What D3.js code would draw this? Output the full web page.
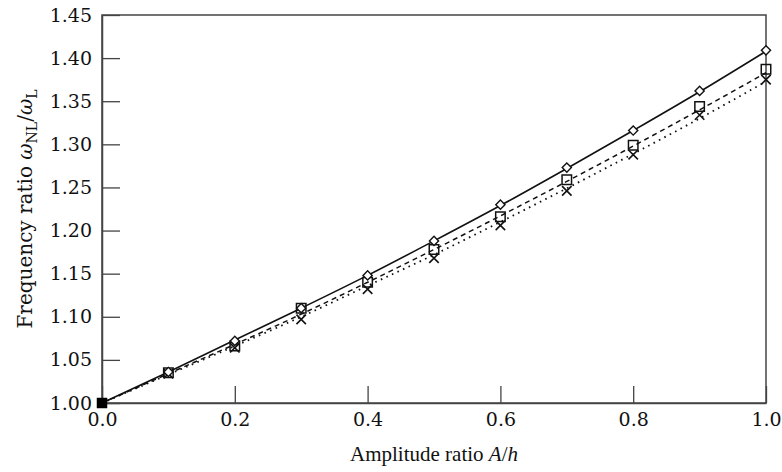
<!DOCTYPE html>
<html>
<head>
<meta charset="utf-8">
<script src="https://cdn.jsdelivr.net/npm/d3@7"></script>
<style>
  body { margin: 0; background: #fff; }
</style>
</head>
<body>
<svg id="chart" width="782" height="472"></svg>
<script>
// amplitude ratio A/h
var amplitude = [0.0, 0.1, 0.2, 0.3, 0.4, 0.5, 0.6, 0.7, 0.8, 0.9, 1.0];

// markers
var diamondValues = [1.000, 1.036, 1.072, 1.110, 1.148, 1.188, 1.230, 1.273, 1.316, 1.362, 1.409];
var squareValues  = [1.000, 1.035, 1.066, 1.110, 1.140, 1.178, 1.216, 1.259, 1.299, 1.344, 1.387];
var crossValues   = [1.000, 1.034, 1.064, 1.097, 1.132, 1.168, 1.206, 1.246, 1.288, 1.334, 1.375];

// curves
var solidCurve  = [1.000, 1.036, 1.073, 1.110, 1.148, 1.188, 1.229, 1.272, 1.316, 1.361, 1.408];
var dashedCurve = [1.000, 1.034, 1.068, 1.103, 1.140, 1.178, 1.217, 1.257, 1.298, 1.340, 1.383];
var dottedCurve = [1.000, 1.033, 1.066, 1.100, 1.136, 1.172, 1.210, 1.249, 1.289, 1.330, 1.373];

var xTicks = [0.0, 0.2, 0.4, 0.6, 0.8, 1.0];
var yTicks = [1.00, 1.05, 1.10, 1.15, 1.20, 1.25, 1.30, 1.35, 1.40, 1.45];

var svg = d3.select("#chart");
var plotLeft = 102, plotRight = 766, plotTop = 15, plotBottom = 403;
var axisColor = "#444";
var tickFont = "DejaVu Serif";

var x = d3.scaleLinear().domain([0, 1]).range([plotLeft, plotRight]);
var y = d3.scaleLinear().domain([1.0, 1.45]).range([plotBottom, plotTop]);

// frame
svg.append("rect")
    .attr("x", plotLeft)
    .attr("y", plotTop)
    .attr("width", plotRight - plotLeft)
    .attr("height", plotBottom - plotTop)
    .attr("fill", "none")
    .attr("stroke", axisColor)
    .attr("stroke-width", 1.5);

// axes with inward ticks
var xAxis = svg.append("g")
    .attr("transform", "translate(0," + plotBottom + ")")
    .call(d3.axisBottom(x).tickValues(xTicks).tickSizeInner(-17).tickSizeOuter(0)
        .tickFormat(d3.format(".1f")));
var yAxis = svg.append("g")
    .attr("transform", "translate(" + plotLeft + ",0)")
    .call(d3.axisLeft(y).tickValues(yTicks).tickSizeInner(-18).tickSizeOuter(0)
        .tickFormat(d3.format(".2f")));

[xAxis, yAxis].forEach(function(g) {
    g.select(".domain").attr("stroke", axisColor).attr("stroke-width", 1.5);
    g.selectAll(".tick line").attr("stroke", axisColor).attr("stroke-width", 1.3);
    g.selectAll(".tick text")
        .attr("font-family", tickFont)
        .attr("font-size", "19px")
        .attr("fill", "#111");
});
xAxis.selectAll(".tick text").attr("y", 10).attr("dy", "0.71em");
yAxis.selectAll(".tick text").attr("x", -10).attr("dy", "0.32em");

// curves
var line = d3.line()
    .x(function(d, i) { return x(amplitude[i]); })
    .y(function(d) { return y(d); })
    .curve(d3.curveMonotoneX);

var curves = [
    {values: solidCurve, dash: null, width: 1.6},
    {values: dashedCurve, dash: "5,4", width: 1.5},
    {values: dottedCurve, dash: "1.6,4.5", width: 1.8}
];
curves.forEach(function(c) {
    svg.append("path")
        .attr("d", line(c.values))
        .attr("fill", "none")
        .attr("stroke", "#111")
        .attr("stroke-width", c.width)
        .attr("stroke-dasharray", c.dash);
});

// markers (diamond = square turned 45 degrees)
var markerGroups = [
    {values: crossValues, symbol: d3.symbolX, size: 60, width: 1.6, fill: "none", rotate: 0},
    {values: squareValues, symbol: d3.symbolSquare, size: 90, width: 1.5, fill: "none", rotate: 0},
    {values: diamondValues, symbol: d3.symbolSquare, size: 42, width: 1.4, fill: "#fff", rotate: 45}
];
markerGroups.forEach(function(m) {
    svg.append("g").selectAll("path")
        .data(m.values.slice(1))
        .join("path")
        .attr("d", d3.symbol().type(m.symbol).size(m.size))
        .attr("transform", function(d, i) {
            return "translate(" + x(amplitude[i + 1]) + "," + y(d) + ")rotate(" + m.rotate + ")";
        })
        .attr("fill", m.fill)
        .attr("stroke", "#111")
        .attr("stroke-width", m.width);
});

// overlapping markers at the origin
svg.append("path")
    .attr("d", d3.symbol().type(d3.symbolSquare).size(110))
    .attr("transform", "translate(" + x(amplitude[0]) + "," + y(squareValues[0]) + ")")
    .attr("fill", "#000");

// axis titles
var xTitle = svg.append("text")
    .attr("x", (plotLeft + plotRight) / 2)
    .attr("y", 461)
    .attr("text-anchor", "middle")
    .attr("font-family", "Liberation Serif")
    .attr("font-size", "21px")
    .attr("fill", "#111");
xTitle.append("tspan").text("Amplitude ratio ");
xTitle.append("tspan").attr("font-style", "italic").text("A");
xTitle.append("tspan").text("/");
xTitle.append("tspan").attr("font-style", "italic").text("h");

var yTitle = svg.append("text")
    .attr("transform", "translate(32," + (plotTop + plotBottom) / 2 + ")rotate(-90)")
    .attr("text-anchor", "middle")
    .attr("font-family", tickFont)
    .attr("font-size", "20px")
    .attr("fill", "#111");
yTitle.append("tspan").text("Frequency ratio ");
yTitle.append("tspan").attr("font-style", "italic").text("ω");
yTitle.append("tspan").attr("font-size", "14px").attr("dy", 5).text("NL");
yTitle.append("tspan").attr("dy", -5).text("/");
yTitle.append("tspan").attr("font-style", "italic").text("ω");
yTitle.append("tspan").attr("font-size", "14px").attr("dy", 5).text("L");
</script>
</body>
</html>
